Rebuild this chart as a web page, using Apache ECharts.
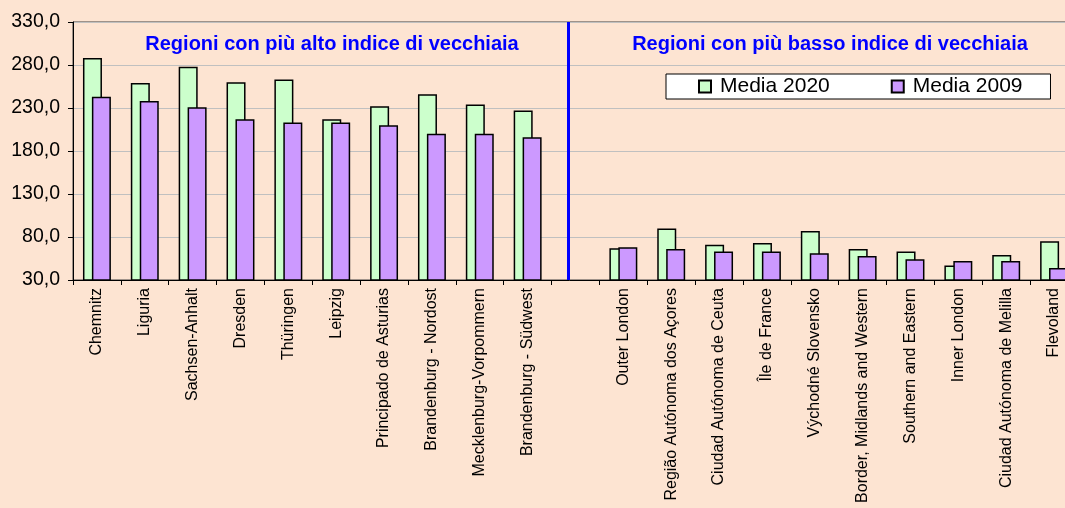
<!DOCTYPE html>
<html>
<head>
    <meta charset="utf-8">
    <title></title>
    <script src="https://cdn.jsdelivr.net/npm/echarts@6.0.0/dist/echarts.min.js"></script>
</head>
<body style="margin:0;background:#fde4d2;">
<div id="main" style="width:1065px;height:508px;"></div>
<script type="text/javascript">
    // regioni: 10 più alto, una colonna vuota, 10 più basso
    var regioni = ['Chemnitz', 'Liguria', 'Sachsen-Anhalt', 'Dresden', 'Thüringen', 'Leipzig',
        'Principado de Asturias', 'Brandenburg - Nordost', 'Mecklenburg-Vorpommern', 'Brandenburg - Südwest',
        '',
        'Outer London', 'Região Autónoma dos Açores', 'Ciudad Autónoma de Ceuta', 'Île de France',
        'Východné Slovensko', 'Border, Midlands and Western', 'Southern and Eastern', 'Inner London',
        'Ciudad Autónoma de Melilla', 'Flevoland'];
    var media2020 = [288, 259, 278, 260, 263, 217, 232, 246, 234, 227,
        '-',
        67, 90, 71, 73, 87, 66, 63, 47, 59, 75];
    var media2009 = [243, 238, 231, 217, 213, 213, 210, 200, 200, 196,
        '-',
        68, 66, 63, 63, 61, 58, 54, 52, 52, 44];
    var titoli = ['Regioni con più alto indice di vecchiaia', 'Regioni con più basso indice di vecchiaia'];
    var divisore = 10.35; // posizione della linea blu, in colonne

    var font = '"Liberation Sans", Arial, sans-serif';
    var myChart = echarts.init(document.getElementById('main'));

    myChart.setOption({
        backgroundColor: '#fde4d2',
        animation: false,
        textStyle: { fontFamily: font },
        title: [
            { text: titoli[0], left: 327, top: 29, textAlign: 'center',
              textStyle: { color: '#0000ff', fontSize: 20, fontWeight: 'bold', fontFamily: font } },
            { text: titoli[1], left: 825, top: 29, textAlign: 'center',
              textStyle: { color: '#0000ff', fontSize: 20, fontWeight: 'bold', fontFamily: font } }
        ],
        legend: {
            left: 666, top: 74,
            backgroundColor: '#ffffff',
            borderColor: '#000000', borderWidth: 1,
            padding: [2, 28, 2, 32],
            itemWidth: 12, itemHeight: 12, itemGap: 61,
            icon: 'rect',
            textStyle: { fontSize: 21, color: '#000', fontFamily: font, padding: [0, 0, 0, 4] }
        },
        grid: {
            left: 73, top: 22, height: 258, width: 1005,
            outerBoundsMode: 'none',
            show: true, backgroundColor: '#fde4d2', borderColor: '#404040', borderWidth: 1
        },
        xAxis: [
            {
                type: 'category',
                data: regioni,
                axisLine: { lineStyle: { color: '#000', width: 1 } },
                axisTick: { show: true, length: 5, lineStyle: { color: '#000' } },
                axisLabel: { rotate: 90, fontSize: 16, color: '#000', margin: 8, interval: 0, fontFamily: font }
            },
            { type: 'value', min: 0, max: regioni.length, show: false }
        ],
        yAxis: {
            type: 'value',
            min: 30, max: 330, interval: 50,
            axisLine: { show: true, lineStyle: { color: '#000' } },
            axisTick: { show: true, length: 5, lineStyle: { color: '#000' } },
            splitLine: { lineStyle: { color: '#c0c0c0', width: 1 } },
            axisLabel: {
                fontSize: 19.5, color: '#000', margin: 13, fontFamily: font,
                formatter: function (v) { return v.toFixed(1).replace('.', ','); }
            }
        },
        series: [
            {
                name: 'Media 2020', type: 'bar', data: media2020,
                barWidth: 19, barGap: '-53%',
                itemStyle: { color: '#ccffcc', borderColor: '#000', borderWidth: 1.5 }
            },
            {
                name: 'Media 2009', type: 'bar', data: media2009,
                barWidth: 19, barGap: '-53%',
                itemStyle: { color: '#cc99ff', borderColor: '#000', borderWidth: 1.5 }
            },
            {
                type: 'line', xAxisIndex: 1, data: [],
                markLine: {
                    symbol: 'none', silent: true, label: { show: false },
                    lineStyle: { color: '#0000ff', width: 3, type: 'solid' },
                    data: [{ xAxis: divisore }]
                }
            }
        ]
    });
</script>
</body>
</html>
